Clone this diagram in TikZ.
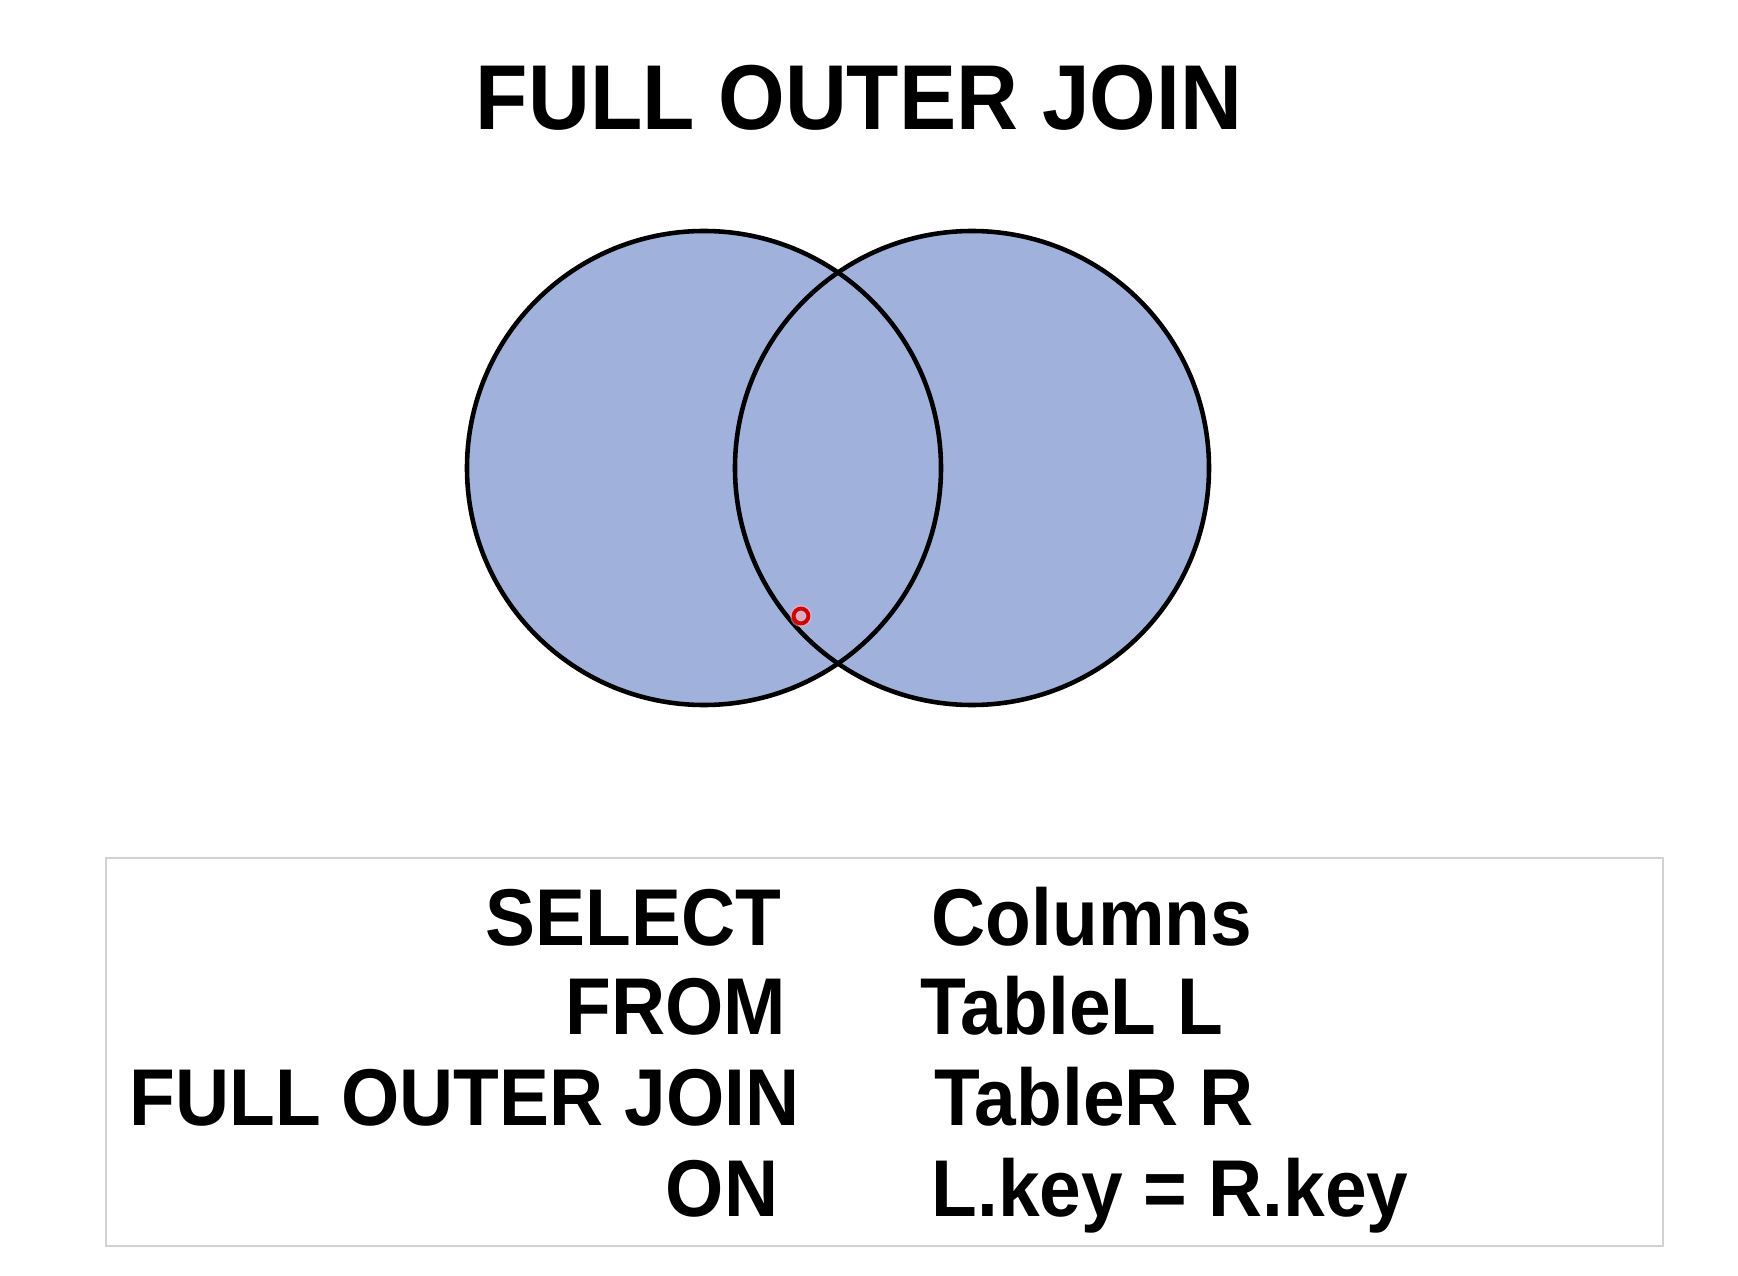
\documentclass[tikz,border=0pt]{standalone}
\usepackage{fontspec}
\setmainfont{Liberation Sans}[FakeStretch=0.93]
\usetikzlibrary{calc}
\definecolor{tablefill}{RGB}{160,178,219}
\definecolor{boxline}{RGB}{210,210,210}
\tikzstyle{venn}=[fill=tablefill]
\tikzstyle{vennline}=[draw=black,line width=1.3pt]
\tikzstyle{sqlkey}=[anchor=base east,inner sep=0pt,font=\fontsize{22.9}{27}\selectfont\bfseries]
\tikzstyle{sqlarg}=[anchor=base west,inner sep=0pt,font=\fontsize{22.9}{27}\selectfont\bfseries]
\tikzstyle{cursor}=[circle,draw=red!85!black,line width=1.1pt,minimum size=4.2pt,inner sep=0pt]

\begin{document}
\begin{tikzpicture}[x=0.01cm,y=-0.01cm]

    \useasboundingbox[fill=white] (0,0) rectangle (1738,1276);

    \node[anchor=base,inner sep=0pt,font=\fontsize{26.2}{31}\selectfont\bfseries] (title) at (859,130) {FULL OUTER JOIN};

    % the two tables
    \fill[venn] (704,468) circle (237);
    \fill[venn] (972,468) circle (237);
    \path[vennline] (704,468) circle (237);
    \path[vennline] (972,468) circle (237);
    \coordinate (tabL) at (704,468);
    \coordinate (tabR) at (972,468);

    \fill[red!30,opacity=0.5] (801,616) circle (11);
    \node[cursor] (pointer) at (801,616) {};

    % query box
    \draw[boxline,line width=0.6pt] (106,858) rectangle (1663,1246);

    \foreach \pos/ \name / \label in {{(782,945.5)/kselect/SELECT},{(787,1034)/kfrom/FROM},{(800,1125)/kjoin/FULL OUTER JOIN},{(779,1216)/kon/ON}}
        \node[sqlkey] (\name) at \pos {\label};
    \foreach \pos/ \name / \label in {{(931,945.5)/aselect/Columns},{(920,1034)/afrom/TableL L},{(934,1125)/ajoin/TableR R},{(931,1216)/aon/L.key = R.key}}
        \node[sqlarg] (\name) at \pos {\label};

\end{tikzpicture}
\end{document}
